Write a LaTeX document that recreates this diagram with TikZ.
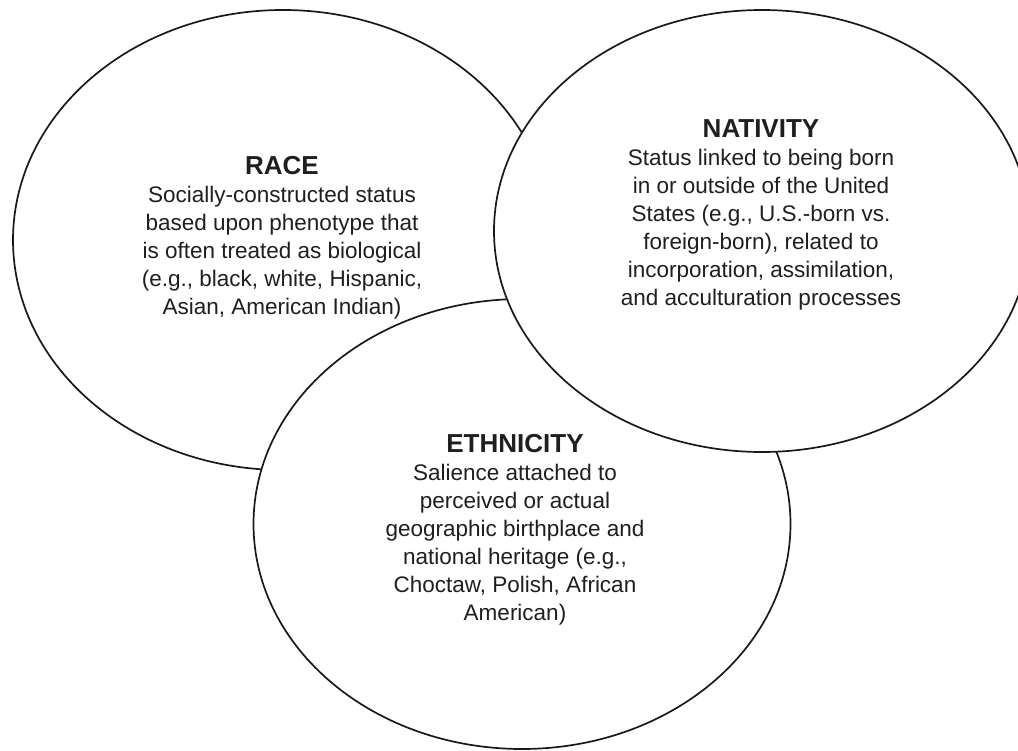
\documentclass[tikz,border=0pt]{standalone}
\usepackage{fontspec}
\setmainfont{Liberation Sans}
\usetikzlibrary{shapes.geometric}
\begin{document}
\begin{tikzpicture}[x=1pt,y=-1pt,
  circ/.style={ellipse, draw=black!90, line width=1.7pt, fill=white, inner sep=0pt, outer sep=0pt},
  blurb/.style={align=center, inner sep=0pt, anchor=north, text=black!88,
    font=\fontsize{22.5}{28}\selectfont},
  ]
\useasboundingbox (0,0) rectangle (1018,751);
% three overlapping sets, later ones painted over earlier ones
\node[circ, minimum width=540pt, minimum height=460pt] (race) at (283,240) {};
\node[circ, minimum width=537pt, minimum height=450pt] (ethnicity) at (522,524) {};
\node[circ, minimum width=536pt, minimum height=442pt] (nativity) at (762,231) {};
% descriptions
\node[blurb] (race-text) at (282,156)
  {{\fontsize{26}{28}\selectfont\bfseries RACE}\\
   Socially-constructed status\\
   based upon phenotype that\\
   is often treated as biological\\
   (e.g., black, white, Hispanic,\\
   Asian, American Indian)};
\node[blurb] (nativity-text) at (761,119)
  {{\fontsize{26}{28}\selectfont\bfseries NATIVITY}\\
   Status linked to being born\\
   in or outside of the United\\
   States (e.g., U.S.-born vs.\\
   foreign-born), related to\\
   incorporation, assimilation,\\
   and acculturation processes};
\node[blurb] (ethnicity-text) at (515,434)
  {{\fontsize{26}{28}\selectfont\bfseries ETHNICITY}\\
   Salience attached to\\
   perceived or actual\\
   geographic birthplace and\\
   national heritage (e.g.,\\
   Choctaw, Polish, African\\
   American)};
\end{tikzpicture}
\end{document}
